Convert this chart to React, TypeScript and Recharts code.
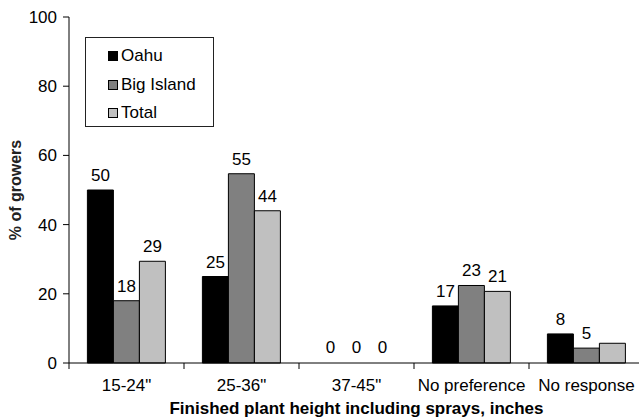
import React from "react";
import {
  BarChart,
  Bar,
  Cell,
  XAxis,
  YAxis,
  Legend,
  LabelList,
  Label,
} from "recharts";

const categories = ['15-24"', '25-36"', '37-45"', "No preference", "No response"];
const oahu = [50, 25, 0, 16.5, 8.4];
const bigIsland = [18, 54.7, 0, 22.4, 4.3];
const total = [29.4, 44, 0, 20.7, 5.7];
const oahuLabels = ["50", "25", "0", "17", "8"];
const bigIslandLabels = ["18", "55", "0", "23", "5"];
const totalLabels = ["29", "44", "0", "21", ""];
const yTicks = [0, 20, 40, 60, 80, 100];

const series = [
  { key: "oahu", name: "Oahu", color: "#000000", values: oahu },
  { key: "bigIsland", name: "Big Island", color: "#808080", values: bigIsland },
  { key: "total", name: "Total", color: "#c0c0c0", values: total },
];

const data = categories.map((c, i) => ({
  category: c,
  oahu: oahu[i],
  bigIsland: bigIsland[i],
  total: total[i],
  oahuLabel: oahuLabels[i],
  bigIslandLabel: bigIslandLabels[i],
  totalLabel: totalLabels[i],
}));

const FONT = "'Liberation Sans', Arial, sans-serif";
const TICK_SIZE = 6;
const TICK_MARGIN = 10;

const LegendBox = () => (
  <div
    style={{
      width: 127,
      height: 84,
      border: "1px solid #222",
      background: "#fff",
      fontFamily: FONT,
      fontSize: 17,
      color: "#000",
      paddingTop: 4,
      boxSizing: "content-box",
    }}
  >
    {series.map((s) => (
      <div
        key={s.key}
        style={{ display: "flex", alignItems: "center", height: 28.5, paddingLeft: 22 }}
      >
        <span
          style={{
            display: "inline-block",
            width: 8,
            height: 8,
            background: s.color,
            border: "1px solid #000",
            marginRight: 3,
          }}
        />
        <span>{s.name}</span>
      </div>
    ))}
  </div>
);

// category label at the band centre, tick mark at the band edges
const CategoryTick = (props: any) => {
  const { x, y, payload, width, visibleTicksCount, index } = props;
  const band = width / visibleTicksCount;
  const top = y - TICK_MARGIN - TICK_SIZE;
  const bottom = y - TICK_MARGIN;
  return (
    <g>
      <line x1={x - band / 2} x2={x - band / 2} y1={top} y2={bottom} stroke="#000" />
      {index === visibleTicksCount - 1 && (
        <line x1={x + band / 2} x2={x + band / 2} y1={top} y2={bottom} stroke="#000" />
      )}
      <text
        x={x}
        y={y}
        dy="0.71em"
        textAnchor="middle"
        fill="#000"
        fontSize={17}
        fontFamily={FONT}
      >
        {payload.value}
      </text>
    </g>
  );
};

const YTitle = (props: any) => {
  const vb = props.viewBox;
  const cx = vb.x + 15;
  const cy = vb.y + vb.height / 2;
  return (
    <text
      x={cx}
      y={cy}
      transform={`rotate(-90, ${cx}, ${cy})`}
      textAnchor="middle"
      dominantBaseline="central"
      fontFamily={FONT}
      fontWeight="bold"
      fontSize={16}
      fill="#222"
    >
      % of growers
    </text>
  );
};

export default function App() {
  return (
    <div
      style={{
        position: "absolute",
        left: 0,
        top: 0,
        width: 639,
        height: 418,
        overflow: "hidden",
        background: "#fff",
      }}
    >
      <BarChart
        width={650}
        height={418}
        data={data}
        margin={{ top: 17, right: 6, bottom: 25, left: 0 }}
        barCategoryGap="16%"
        barGap={0}
      >
        <XAxis
          dataKey="category"
          height={30}
          tickLine={false}
          axisLine={{ stroke: "#000" }}
          tickSize={TICK_SIZE}
          tickMargin={TICK_MARGIN}
          interval={0}
          tick={<CategoryTick />}
        >
          <Label
            value="Finished plant height including sprays, inches"
            position="bottom"
            offset={9}
            fill="#000"
            fontWeight="bold"
            fontSize={17}
            fontFamily={FONT}
          />
        </XAxis>
        <YAxis
          width={69}
          domain={[0, 100]}
          ticks={yTicks}
          tickSize={6}
          tickMargin={6}
          axisLine={{ stroke: "#000" }}
          tickLine={{ stroke: "#000" }}
          tick={{ fill: "#000", fontSize: 17, fontFamily: FONT }}
        >
          <Label content={YTitle} />
        </YAxis>
        <Legend
          layout="vertical"
          align="center"
          verticalAlign="middle"
          content={() => <LegendBox />}
          wrapperStyle={{ left: 85, top: 37, width: 129, height: 90 }}
        />
        {series.map((s) => (
          <Bar
            key={s.key}
            dataKey={s.key}
            name={s.name}
            fill={s.color}
            stroke="#000"
            strokeWidth={1}
            minPointSize={1}
            isAnimationActive={false}
          >
            {s.values.map((v, i) => (
              <Cell
                key={i}
                fill={s.color}
                fillOpacity={v === 0 ? 0 : 1}
                stroke={v === 0 ? "none" : "#000"}
              />
            ))}
            <LabelList
              dataKey={`${s.key}Label`}
              position="top"
              offset={9}
              fill="#000"
              fontSize={17}
              fontFamily={FONT}
            />
          </Bar>
        ))}
      </BarChart>
    </div>
  );
}
